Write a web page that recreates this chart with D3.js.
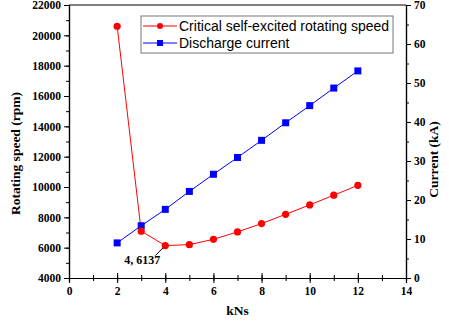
<!DOCTYPE html>
<html>
<head>
<meta charset="utf-8">
<script src="https://cdn.jsdelivr.net/npm/d3@7"></script>
<style>
  body { margin: 0; background: #fff; }
  svg { display: block; }
</style>
</head>
<body>
<div id="chart"></div>
<script>
// chart data
var kns = [2, 3, 4, 5, 6, 7, 8, 9, 10, 11, 12];
var speed = [20600, 7090, 6137, 6200, 6550, 7040, 7590, 8200, 8820, 9460, 10110];
var current = [9.0, 13.4, 17.6, 22.2, 26.6, 30.9, 35.3, 39.8, 44.2, 48.7, 53.1];
var xTicks = [0, 2, 4, 6, 8, 10, 12, 14];
var leftTicks = [4000, 6000, 8000, 10000, 12000, 14000, 16000, 18000, 20000, 22000];
var rightTicks = [0, 10, 20, 30, 40, 50, 60, 70];
var seriesNames = ["Critical self-excited rotating speed", "Discharge current"];

var width = 449, height = 322;
var margin = { left: 69, right: 43, top: 5, bottom: 44 };
var serif = "'Liberation Serif', 'Times New Roman', serif";
var sans = "'Liberation Sans', Arial, sans-serif";

var svg = d3.select("#chart").append("svg")
    .attr("width", width)
    .attr("height", height);

var x = d3.scaleLinear().domain([0, 14]).range([margin.left, width - margin.right]);
var yL = d3.scaleLinear().domain([4000, 22000]).range([height - margin.bottom, margin.top]);
var yR = d3.scaleLinear().domain([0, 70]).range([height - margin.bottom, margin.top]);

// minor ticks
var xMinor = d3.range(0, 14.01, 1);
var lMinor = d3.range(4000, 22001, 1000);
var rMinor = d3.range(0, 70.01, 5);

// plot frame (top line)
svg.append("line")
    .attr("x1", x(0)).attr("x2", x(14))
    .attr("y1", yL(22000)).attr("y2", yL(22000))
    .attr("stroke", "#000").attr("stroke-width", 1.2);

// bottom axis
var gx = svg.append("g")
    .attr("transform", `translate(0,${height - margin.bottom})`);
gx.call(d3.axisBottom(x).tickValues(xMinor).tickSize(3).tickFormat(""));
gx.call(g => g.selectAll(".tick line").attr("y1", -3));
var gx2 = svg.append("g")
    .attr("transform", `translate(0,${height - margin.bottom})`)
    .call(d3.axisBottom(x).tickValues(xTicks).tickSize(5).tickPadding(4).tickFormat(d3.format("d")));
gx2.selectAll(".tick line").attr("y1", -5);

// left axis
var gl = svg.append("g")
    .attr("transform", `translate(${margin.left},0)`);
gl.call(d3.axisLeft(yL).tickValues(lMinor).tickSize(3).tickFormat(""));
var gl2 = svg.append("g")
    .attr("transform", `translate(${margin.left},0)`)
    .call(d3.axisLeft(yL).tickValues(leftTicks).tickSize(5).tickPadding(3).tickFormat(d3.format("d")));

// right axis
var gr = svg.append("g")
    .attr("transform", `translate(${width - margin.right},0)`);
gr.call(d3.axisRight(yR).tickValues(rMinor).tickSize(3).tickFormat(""));
var gr2 = svg.append("g")
    .attr("transform", `translate(${width - margin.right},0)`)
    .call(d3.axisRight(yR).tickValues(rightTicks).tickSize(5).tickPadding(3).tickFormat(d3.format("d")));

svg.selectAll(".domain").attr("stroke", "#000").attr("stroke-width", 1.2);
svg.selectAll(".tick line").attr("stroke", "#000");
svg.selectAll(".tick text")
    .attr("font-family", serif)
    .attr("font-weight", "bold")
    .attr("font-size", 11.5)
    .attr("fill", "#000");

// axis titles
svg.append("text")
    .attr("transform", `translate(20,${(margin.top + height - margin.bottom) / 2 + 12}) rotate(-90)`)
    .attr("text-anchor", "middle")
    .attr("font-family", serif).attr("font-weight", "bold").attr("font-size", 13.5)
    .text("Rotating speed (rpm)");

svg.append("text")
    .attr("transform", `translate(438,${(margin.top + height - margin.bottom) / 2 + 18}) rotate(-90)`)
    .attr("text-anchor", "middle")
    .attr("font-family", serif).attr("font-weight", "bold").attr("font-size", 13.5)
    .text("Current (kA)");

svg.append("text")
    .attr("x", x(7)).attr("y", 315)
    .attr("text-anchor", "middle")
    .attr("font-family", serif).attr("font-weight", "bold").attr("font-size", 13.5)
    .text("kNs");

// lines
var speedData = kns.map((d, i) => ({ x: d, y: speed[i] }));
var currentData = kns.map((d, i) => ({ x: d, y: current[i] }));

svg.append("path")
    .datum(currentData)
    .attr("fill", "none").attr("stroke", "#0000ff").attr("stroke-width", 1)
    .attr("d", d3.line().x(d => x(d.x)).y(d => yR(d.y)));

svg.append("path")
    .datum(speedData)
    .attr("fill", "none").attr("stroke", "#ff0000").attr("stroke-width", 1)
    .attr("d", d3.line().x(d => x(d.x)).y(d => yL(d.y)));

svg.selectAll("rect.cur")
    .data(currentData)
    .enter()
    .append("rect")
    .attr("class", "cur")
    .attr("x", d => x(d.x) - 3.5).attr("y", d => yR(d.y) - 3.5)
    .attr("width", 7).attr("height", 7)
    .attr("fill", "#0000ff");

svg.selectAll("circle.spd")
    .data(speedData)
    .enter()
    .append("circle")
    .attr("class", "spd")
    .attr("cx", d => x(d.x)).attr("cy", d => yL(d.y))
    .attr("r", 3.6)
    .attr("fill", "#ff0000");

// annotation for minimum
var minPt = speedData[2];
svg.append("line")
    .attr("x1", x(minPt.x) - 2).attr("y1", yL(minPt.y) + 2)
    .attr("x2", x(minPt.x) - 10).attr("y2", yL(minPt.y) + 10)
    .attr("stroke", "#000").attr("stroke-width", 1);
svg.append("text")
    .attr("x", x(minPt.x) - 5).attr("y", yL(minPt.y) + 18)
    .attr("text-anchor", "end")
    .attr("font-family", serif).attr("font-weight", "bold").attr("font-size", 12)
    .text(`${minPt.x}, ${minPt.y}`);

// legend
var legend = svg.append("g");
legend.append("rect")
    .attr("x", 141).attr("y", 16)
    .attr("width", 252).attr("height", 37)
    .attr("fill", "#fff").attr("stroke", "#777").attr("stroke-width", 1);

var legColors = ["#ff0000", "#0000ff"];
seriesNames.forEach((name, i) => {
    var ly = 26 + i * 17;
    legend.append("line")
        .attr("x1", 143).attr("x2", 177)
        .attr("y1", ly).attr("y2", ly)
        .attr("stroke", legColors[i]).attr("stroke-width", 1);
    if (i == 0) {
        legend.append("circle").attr("cx", 160).attr("cy", ly).attr("r", 3).attr("fill", legColors[i]);
    } else {
        legend.append("rect").attr("x", 157).attr("y", ly - 3).attr("width", 6).attr("height", 6).attr("fill", legColors[i]);
    }
    legend.append("text")
        .attr("x", 179).attr("y", ly + 5)
        .attr("font-family", sans).attr("font-size", 14)
        .text(name);
});
</script>
</body>
</html>
